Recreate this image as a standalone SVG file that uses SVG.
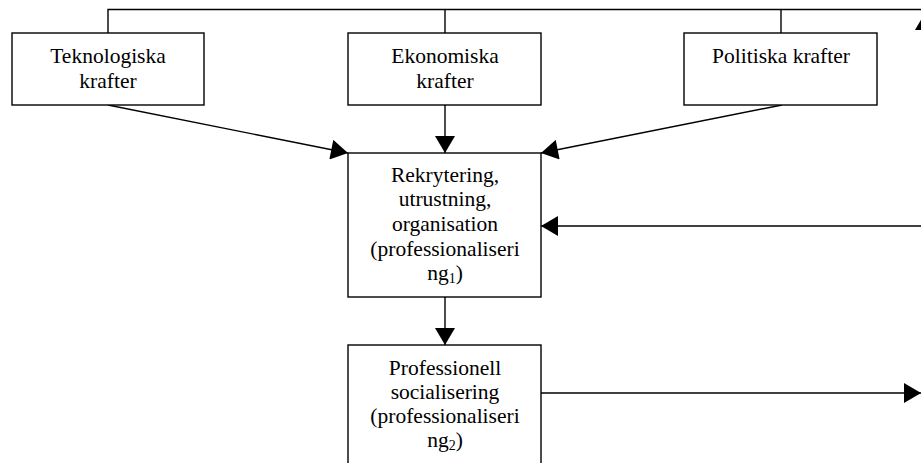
<svg xmlns="http://www.w3.org/2000/svg" width="921" height="463" viewBox="0 0 921 463">
<defs>
<style>
.box{fill:#fff;stroke:#000;stroke-width:1.4}
.ln{fill:none;stroke:#000;stroke-width:1.4}
.arr{fill:none;stroke:#000;stroke-width:1.4;marker-end:url(#ah)}
text{font-family:"Liberation Serif","Times New Roman",serif;font-size:21.5px;fill:#000;text-anchor:middle}
.sub{font-size:14px}
</style>
<marker id="ah" markerUnits="userSpaceOnUse" markerWidth="18" markerHeight="20" refX="17" refY="10" orient="auto" viewBox="0 0 17 20">
<path d="M0,0 L17,10 L0,20 z" fill="#000"/>
</marker>
</defs>
<rect width="921" height="463" fill="#fff"/>
<g id="connectors">
<path class="ln" d="M108,33 V9.5 H930"/>
<path class="ln" d="M445,9.5 V33"/>
<path class="ln" d="M781,9.5 V33"/>
<path class="arr" d="M925,230 V13"/>
<path class="arr" d="M108,105 L348,153"/>
<path class="arr" d="M445,105 V153"/>
<path class="arr" d="M782,105 L541,153"/>
<path class="arr" d="M930,226 H541"/>
<path class="arr" d="M445,297 V345"/>
<path class="arr" d="M541,393 H921"/>
</g>
<g id="teknologiska">
<rect class="box" x="12" y="33" width="192" height="72"/>
<text x="108" y="63">Teknologiska</text>
<text x="108" y="88">krafter</text>
</g>
<g id="ekonomiska">
<rect class="box" x="348" y="33" width="193" height="72"/>
<text x="445" y="63">Ekonomiska</text>
<text x="445" y="88">krafter</text>
</g>
<g id="politiska">
<rect class="box" x="684" y="33" width="193" height="72"/>
<text x="781" y="63">Politiska krafter</text>
</g>
<g id="rekrytering">
<rect class="box" x="348" y="153" width="193" height="144"/>
<text x="445" y="182">Rekrytering,</text>
<text x="445" y="206">utrustning,</text>
<text x="445" y="231">organisation</text>
<text x="445" y="256">(professionaliseri</text>
<text x="445" y="280">ng<tspan class="sub" dy="3">1</tspan><tspan dy="-3">)</tspan></text>
</g>
<g id="professionell">
<rect class="box" x="348" y="345" width="193" height="140"/>
<text x="445" y="375">Professionell</text>
<text x="445" y="399">socialisering</text>
<text x="445" y="423">(professionaliseri</text>
<text x="445" y="447">ng<tspan class="sub" dy="3">2</tspan><tspan dy="-3">)</tspan></text>
</g>
</svg>
